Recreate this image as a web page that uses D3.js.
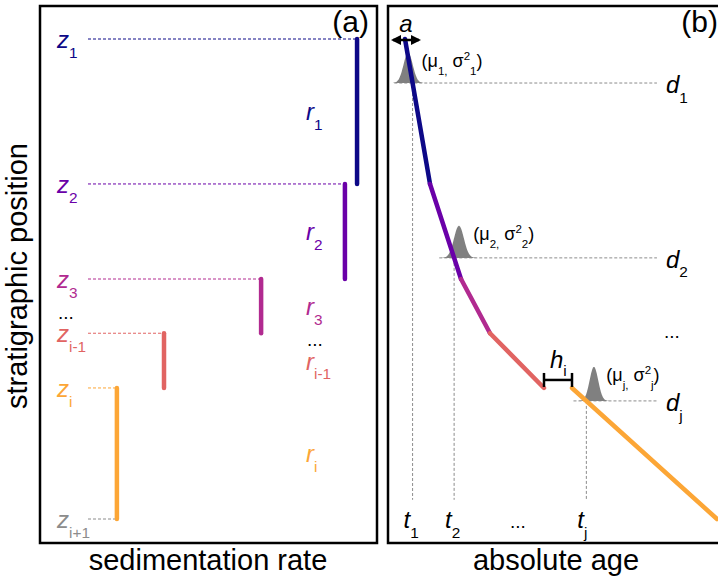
<!DOCTYPE html>
<html>
<head>
<meta charset="utf-8">
<script src="https://cdn.jsdelivr.net/npm/d3@7"></script>
<style>
  body { margin: 0; background: #fff; }
  svg { display: block; font-family: "Liberation Sans", Arial, Helvetica, sans-serif; }
</style>
</head>
<body>
<svg id="svg01" width="718" height="584"></svg>
<script>
// stratigraphic positions z (0 = top, 100 = bottom), in relative units
const zNames = ["1", "2", "3", "i-1", "i", "i+1"];
const zPos = [0, 30.2, 50, 61.3, 72.7, 100];
const zColors = ["#0d0887", "#6a00a8", "#b12a90", "#e16462", "#fca636", "#8c8c8c"];

// sedimentation rate of each segment (relative units)
const rNames = ["1", "2", "3", "i-1", "i"];
const rates = [93.1, 88.9, 59.9, 26.3, 10.0];

// age-depth model: age at top / bottom of each segment
const ageTop = [5.15, 12.73, 22.12, 30.91, 55.76];
const ageBot = [12.73, 22.12, 30.91, 47.27, 99.7];

// dated horizons d and their age distributions
const dNames = ["1", "2", "j"];
const dPos = [9.17, 45.6, 75.4];
const mu = [6.1, 21.5, 62.4];
const sigma = [1.4, 1.5, 1.3];
const peak = [6.3, 6.7, 7.1];

const svg = d3.select("#svg01");

// shared depth scale
const y = d3.scaleLinear().domain([0, 100]).range([39, 519]);
// panel (a): rate, panel (b): age
const xRate = d3.scaleLinear().domain([0, 100]).range([88, 377]);
const xAge = d3.scaleLinear().domain([0, 100]).range([388, 718]);

// text with sub/superscripts
function rich(g, x, yy, parts, o) {
  const t = g.append("text")
    .attr("x", x).attr("y", yy)
    .attr("font-size", o.size)
    .attr("fill", o.color || "#000")
    .attr("text-anchor", o.anchor || "start");
  let shift = 0;
  parts.forEach(([s, kind]) => {
    const target = kind === "sub" ? o.size * (o.subShift || 0.45) : kind === "sup" ? -o.size * 0.4 : 0;
    const ts = t.append("tspan").attr("dy", target - shift).text(s);
    if (kind) ts.attr("font-size", o.size * 0.64);
    else if (o.italic && s.length === 1 && /[a-z]/.test(s)) ts.attr("font-style", "italic");
    shift = target;
  });
  return t;
}

const segs = rates.map((r, i) => ({
  i, rate: r, z0: zPos[i], z1: zPos[i + 1], a0: ageTop[i], a1: ageBot[i], color: zColors[i]
}));

// ---------------- panel (a)
const ga = svg.append("g");

ga.selectAll(".zdash")
  .data(zPos)
  .join("line")
  .attr("x1", xRate(0))
  .attr("x2", (d, i) => xRate(i < rates.length ? rates[i] : rates[i - 1]))
  .attr("y1", d => y(d)).attr("y2", d => y(d))
  .attr("stroke", (d, i) => zColors[i])
  .attr("stroke-width", 1)
  .attr("stroke-dasharray", "3,2");

ga.selectAll(".rbar")
  .data(segs)
  .join("line")
  .attr("x1", d => xRate(d.rate)).attr("x2", d => xRate(d.rate))
  .attr("y1", d => y(d.z0)).attr("y2", d => y(d.z1))
  .attr("stroke", d => d.color)
  .attr("stroke-width", 4.5)
  .attr("stroke-linecap", "round");

zPos.forEach((z, i) => {
  rich(ga, 57, y(z) + 9, [["z", ""], [zNames[i], "sub"]], { size: 24, color: zColors[i], italic: true, subShift: 0.4 });
});
segs.forEach(s => {
  rich(ga, 306, (y(s.z0) + y(s.z1)) / 2 + 9, [["r", ""], [rNames[s.i], "sub"]], { size: 24, color: s.color, italic: true, subShift: 0.4 });
});
ga.append("text").attr("x", 58).attr("y", 319).attr("font-size", 19).text("...");
ga.append("text").attr("x", 307).attr("y", 346).attr("font-size", 19).text("...");

ga.append("rect")
  .attr("x", 40).attr("y", 6).attr("width", 337).attr("height", 537)
  .attr("fill", "none").attr("stroke", "#000").attr("stroke-width", 2.5);

ga.append("text").attr("x", 369).attr("y", 32).attr("text-anchor", "end")
  .attr("font-size", 30).text("(a)");

ga.append("text").attr("x", 208).attr("y", 570).attr("text-anchor", "middle")
  .attr("font-size", 29).text("sedimentation rate");

ga.append("text").attr("transform", "translate(27,276) rotate(-90)")
  .attr("text-anchor", "middle").attr("font-size", 29).text("stratigraphic position");

// ---------------- panel (b)
const gb = svg.append("g");

// age where the model crosses depth z
function ageAt(z) {
  const s = segs.find(s => z >= s.z0 && z <= s.z1);
  return s.a0 + (s.a1 - s.a0) * (z - s.z0) / (s.z1 - s.z0);
}
const tAge = dPos.map(ageAt);

// dashed guides
gb.selectAll(".ddash")
  .data(dPos)
  .join("line")
  .attr("x1", (d, i) => xAge(Math.min(mu[i], tAge[i]) - 3 * sigma[i]))
  .attr("x2", xAge(81.5))
  .attr("y1", d => y(d)).attr("y2", d => y(d))
  .attr("stroke", "#8c8c8c").attr("stroke-width", 1).attr("stroke-dasharray", "3,2");

gb.selectAll(".tdash")
  .data(tAge)
  .join("line")
  .attr("x1", d => xAge(d)).attr("x2", d => xAge(d))
  .attr("y1", (d, i) => y(dPos[i])).attr("y2", y(96))
  .attr("stroke", "#8c8c8c").attr("stroke-width", 1).attr("stroke-dasharray", "3,2");

// age distributions
dPos.forEach((dz, i) => {
  const xs = d3.range(-3.5, 3.51, 0.1).map(k => mu[i] + k * sigma[i]);
  const area = d3.area()
    .x(a => xAge(a))
    .y0(y(dz))
    .y1(a => y(dz - peak[i] * Math.exp(-0.5 * ((a - mu[i]) / sigma[i]) ** 2)))
    .curve(d3.curveBasis);
  gb.append("path").attr("d", area(xs)).attr("fill", "#808080");
});

// age-depth model
gb.selectAll(".seg")
  .data(segs)
  .join("line")
  .attr("x1", d => xAge(d.a0)).attr("x2", d => xAge(d.a1))
  .attr("y1", d => y(d.z0)).attr("y2", d => y(d.z1))
  .attr("stroke", d => d.color)
  .attr("stroke-width", 4.5)
  .attr("stroke-linecap", "round");

// hiatus bracket h_i
const hY = y(zPos[4]) - 8;
const hA = [ageBot[3], ageTop[4]];
gb.append("line").attr("x1", xAge(hA[0])).attr("x2", xAge(hA[1]))
  .attr("y1", hY).attr("y2", hY).attr("stroke", "#000").attr("stroke-width", 2.5);
hA.forEach(a => gb.append("line").attr("x1", xAge(a)).attr("x2", xAge(a))
  .attr("y1", hY - 7).attr("y2", hY + 7).attr("stroke", "#000").attr("stroke-width", 2.5));
rich(gb, xAge((hA[0] + hA[1]) / 2) - 8, hY - 12, [["h", ""], ["i", "sub"]], { size: 24, italic: true, subShift: 0.35 });

// initial age a
const defs = svg.append("defs");
defs.append("marker").attr("id", "ah").attr("viewBox", "0 0 10 10")
  .attr("refX", 8).attr("refY", 5).attr("markerWidth", 4).attr("markerHeight", 4)
  .attr("orient", "auto-start-reverse")
  .append("path").attr("d", "M0,0L10,5L0,10z").attr("fill", "#000");
gb.append("line")
  .attr("x1", xAge(ageTop[0]) - 12).attr("x2", xAge(ageTop[0]) + 14)
  .attr("y1", y(0) + 1).attr("y2", y(0) + 1)
  .attr("stroke", "#000").attr("stroke-width", 2.5)
  .attr("marker-start", "url(#ah)").attr("marker-end", "url(#ah)");
rich(gb, xAge(ageTop[0]) + 1, y(0) - 7, [["a", ""]], { size: 24, italic: true, anchor: "middle" });

// labels d, t, (mu, sigma)
dPos.forEach((dz, i) => {
  rich(gb, 666, y(dz) + 10, [["d", ""], [dNames[i], "sub"]], { size: 24, italic: true, subShift: 0.4 });
  rich(gb, xAge(tAge[i]) - 9, 528, [["t", ""], [dNames[i], "sub"]], { size: 24, italic: true, subShift: 0.4 });
  rich(gb, xAge(mu[i] + 2.9 * sigma[i]), y(dz - peak[i]) + 14,
    [["(\u03bc", ""], [dNames[i] + ",", "sub"], [" \u03c3", ""], ["2", "sup"], [dNames[i], "sub"], [")", ""]],
    { size: 18 });
});
gb.append("text").attr("x", 510).attr("y", 528).attr("font-size", 19).text("...");
gb.append("text").attr("x", 664).attr("y", 338).attr("font-size", 19).text("...");

gb.append("rect")
  .attr("x", 388).attr("y", 6).attr("width", 340).attr("height", 537)
  .attr("fill", "none").attr("stroke", "#000").attr("stroke-width", 2.5);

gb.append("text").attr("x", 718).attr("y", 32).attr("text-anchor", "end")
  .attr("font-size", 30).text("(b)");

gb.append("text").attr("x", 556).attr("y", 570).attr("text-anchor", "middle")
  .attr("font-size", 29).text("absolute age");
</script>
</body>
</html>
